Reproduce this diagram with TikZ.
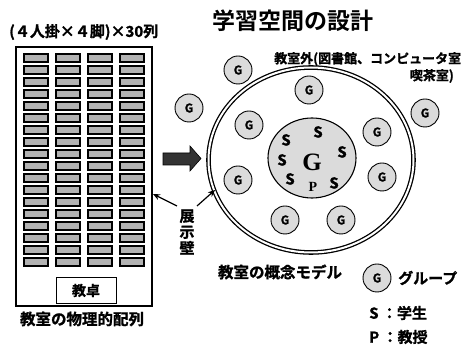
\documentclass[tikz,border=0pt]{standalone}
\usepackage{fontspec}
\setmainfont{Noto Sans CJK JP}[BoldFont={Noto Sans CJK JP Bold},BoldFeatures={FakeBold=1.2}]
\newfontfamily\titlefont{Noto Sans CJK JP Bold}
\newfontfamily\serifb{Liberation Serif}
\usetikzlibrary{shapes.geometric,arrows.meta}
\begin{document}
\begin{tikzpicture}[x=1pt,y=-1pt,
  desk/.style={draw=black,line width=1.2pt,fill=black!30},
  gnode/.style={circle,draw=black,line width=0.9pt,fill=black!14,minimum size=28pt,inner sep=0pt,font=\fontsize{12}{12}\selectfont\bfseries},
  snode/.style={inner sep=0pt,font=\fontsize{15}{15}\selectfont\bfseries},
  lbl/.style={inner sep=0pt,font=\fontsize{15.5}{16}\selectfont\bfseries},
  ptr/.style={-{Stealth[length=7pt,width=6pt]},line width=1.2pt}]
\useasboundingbox (0,0) rectangle (467,352);
% left: physical layout
\node[lbl,anchor=west,font=\fontsize{15}{15}\selectfont\bfseries] (t1) at (9,32) {(４人掛×４脚)×30列};
\node[draw=black,line width=1.4pt,minimum width=136pt,minimum height=259pt,inner sep=0pt] (room) at (84,176.5) {};
\foreach \r in {0,...,17}{
  \foreach \c in {0,...,3}{
    \node[desk,minimum width=24pt,minimum height=8pt,inner sep=0pt] (d\r\c) at (36+32*\c,58+12*\r) {};
  }
}
\node[draw=black,line width=1pt,minimum width=60pt,minimum height=26pt,inner sep=0pt,font=\fontsize{14}{14}\selectfont\bfseries] (desk) at (86,290.5) {教卓};
\node[lbl] (t2) at (82,319) {教室の物理的配列};
% title
\node[inner sep=0pt,anchor=west,font=\titlefont\fontsize{23}{23}\selectfont] (title) at (212,21) {学習空間の設計};
% big arrow
\draw[fill=black!80,draw=black,line width=0.6pt] (163,153) -- (190,153) -- (190,146) -- (201,158.5) -- (190,171) -- (190,165) -- (163,165) -- cycle;
% concept model
\node[ellipse,draw=black,line width=1.3pt,double,double distance=2pt,minimum width=205pt,minimum height=185pt,inner sep=0pt] (model) at (311,160) {};
\node[ellipse,draw=black,line width=1.1pt,fill=black!14,minimum width=88pt,minimum height=80pt,inner sep=0pt] (core) at (312,158) {};
\node[snode] (s1) at (318,132) {S};
\node[snode] (s2) at (286,140) {S};
\node[snode] (s3) at (342,152) {S};
\node[snode] (s4) at (282,160) {S};
\node[snode] (s5) at (290,179) {S};
\node[snode] (s6) at (334,183) {S};
\node[inner sep=0pt,font=\serifb\fontsize{25}{25}\selectfont\bfseries] (bigg) at (312,162) {G};
\node[inner sep=0pt,font=\serifb\fontsize{14}{14}\selectfont\bfseries] (p) at (313,187) {P};
% groups
\node[gnode] (g1) at (238,70) {G};
\node[gnode] (g2) at (309,90) {G};
\node[gnode] (g3) at (189,108) {G};
\node[gnode] (g4) at (249,125) {G};
\node[gnode] (g5) at (238,180) {G};
\node[gnode] (g6) at (285,220) {G};
\node[gnode] (g7) at (341,220) {G};
\node[gnode] (g8) at (377,132) {G};
\node[gnode] (g9) at (382,177) {G};
\node[gnode] (g10) at (425,113) {G};
% outside text
\node[inner sep=0pt,anchor=west,font=\fontsize{13}{14}\selectfont\bfseries] (out1) at (274,59) {教室外(図書館、コンピュータ室};
\node[inner sep=0pt,anchor=east,font=\fontsize{13}{14}\selectfont\bfseries] (out2) at (454,76) {喫茶室)};
% wall
\node[inner sep=0pt,align=center,font=\fontsize{15}{16}\selectfont\bfseries] (wall) at (187,232) {展\\示\\壁};
\coordinate (wl) at (177,206);
\coordinate (wr) at (197,206);
\coordinate (rw) at (153,194);
\coordinate (ew) at (215,190);
\draw[ptr] (wl) -- (rw);
\draw[ptr] (wr) -- (ew);
\node[lbl] (t3) at (280,272) {教室の概念モデル};
% legend
\node[gnode] (lg) at (377,278) {G};
\node[inner sep=0pt,anchor=west,font=\fontsize{15}{15}\selectfont\bfseries] (lgt) at (398,278) {グループ};
\node[inner sep=0pt,anchor=west,font=\fontsize{15}{15}\selectfont\bfseries] (ls) at (369,313) {S ：学生};
\node[inner sep=0pt,anchor=west,font=\fontsize{15}{15}\selectfont\bfseries] (lp) at (369,337) {P ：教授};
\end{tikzpicture}
\end{document}
